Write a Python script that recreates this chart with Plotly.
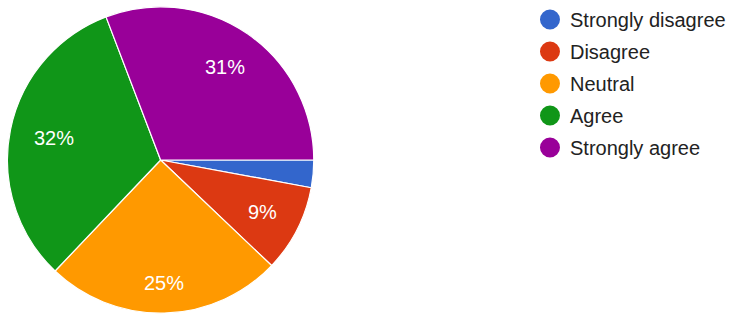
import math
import plotly.graph_objects as go

labels = ["Strongly disagree", "Disagree", "Neutral", "Agree", "Strongly agree"]
values = [2.9, 9.2, 25.0, 32.1, 30.8]
colors = ["#3366cc", "#dc3912", "#ff9900", "#109618", "#990099"]
show_label = [False, True, True, True, True]

W, H = 731, 314
cx, cy, r = 161.5, 160, 154
FONT = "Liberation Sans, Arial, sans-serif"
FS = 20

fig = go.Figure()
fig.add_trace(go.Pie(
    labels=labels, values=values, sort=False, direction="clockwise", rotation=90,
    marker=dict(colors=colors, line=dict(color="white", width=1.2)),
    textinfo="none", showlegend=False, hoverinfo="label+percent",
    domain=dict(x=[(cx - r) / W, (cx + r) / W], y=[(H - cy - r) / H, (H - cy + r) / H]),
))

# percentage labels placed along each slice bisector (Google-chart style)
total = sum(values)
cum = 0.0
for lab, v, show in zip(labels, values, show_label):
    mid = (cum + v / 2) / total
    cum += v
    if not show:
        continue
    txt = f"{round(100 * v / total)}%"
    ang = 2 * math.pi * mid  # clockwise from 3 o'clock, screen coords
    c, s = math.cos(ang), math.sin(ang)
    w = 11.1 * (len(txt) - 1) + 17.8
    h = 15
    ext = abs(c) * w / 2 + abs(s) * h / 2
    d = 0.85 * r - ext
    px = cx + d * c
    py = cy + d * s
    fig.add_annotation(
        x=px / W, y=(H - py) / H, xref="paper", yref="paper",
        text=txt, showarrow=False, xanchor="center", yanchor="middle",
        font=dict(color="white", size=FS, family=FONT),
    )

for lab, col in zip(labels, colors):
    fig.add_trace(go.Scatter(
        x=[None], y=[None], mode="markers", name=lab, legendgroup=lab,
        marker=dict(size=16, color=col, line=dict(color=col, width=4)),
        showlegend=True, hoverinfo="skip",
    ))

fig.update_layout(
    width=W, height=H, margin=dict(l=0, r=0, t=0, b=0),
    paper_bgcolor="white", plot_bgcolor="white",
    xaxis=dict(visible=False), yaxis=dict(visible=False),
    showlegend=True,
    legend=dict(x=0.729, y=1.0, xanchor="left", yanchor="top", tracegroupgap=3,
                font=dict(size=FS, color="#222222", family=FONT),
                bgcolor="rgba(0,0,0,0)"),
)
fig.write_html("out.html")
